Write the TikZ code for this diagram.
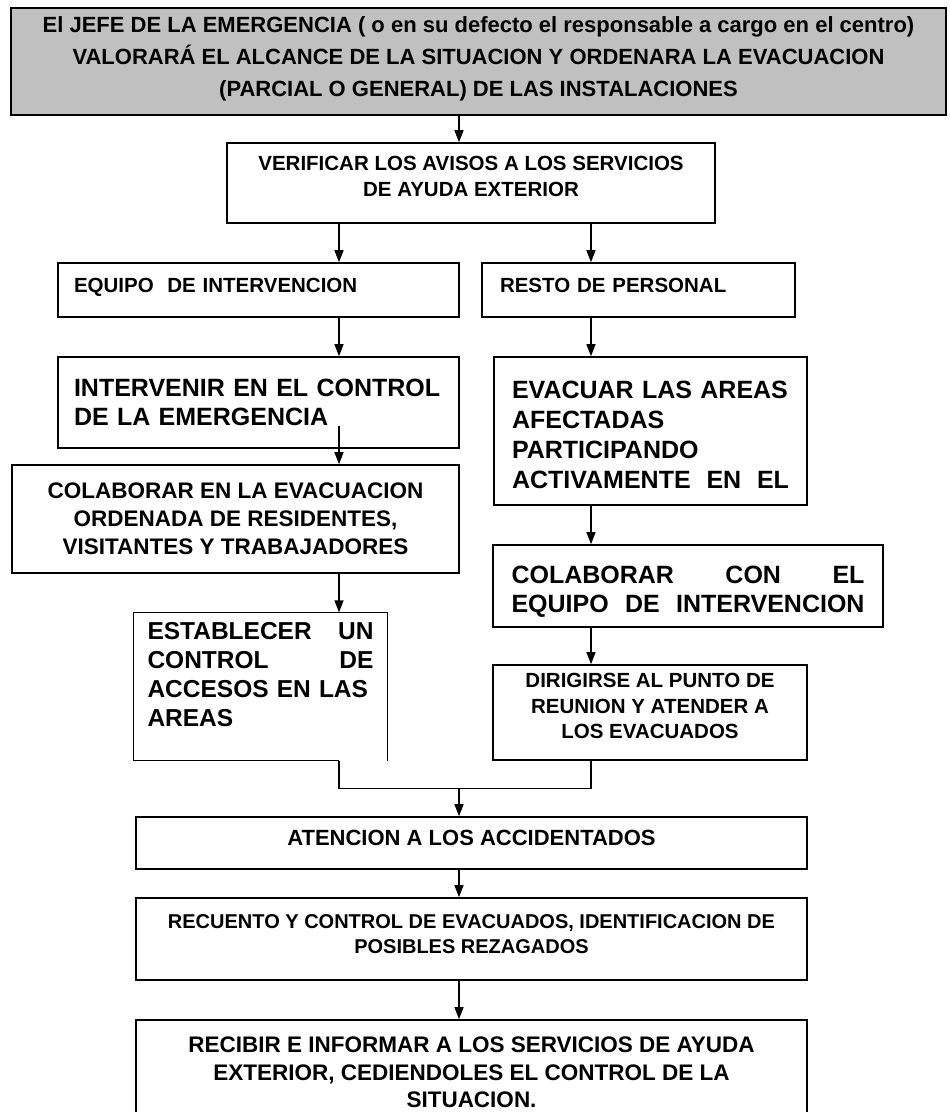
\documentclass[tikz,border=0pt]{standalone}
\usepackage{fontspec}
\setmainfont{Liberation Sans}
\usetikzlibrary{arrows.meta,calc}
\definecolor{jefegray}{RGB}{192,192,192}
\newcommand{\lowstrut}[1]{\rule[-#1]{0pt}{#1}}
\newcommand{\highstrut}[1]{\rule{0pt}{#1}}
\newcommand{\boxfont}[2]{\bfseries\fontsize{#1}{#2}\selectfont}

\begin{document}
\begin{tikzpicture}[x=1pt, y=-1pt, >={Triangle[length=12pt,width=9pt]}, line width=1.3pt,
        box/.style={draw, line width=1.6pt, inner sep=0pt}]
    \useasboundingbox (0,0) rectangle (950,1112);
    \coordinate (lcol) at (339,0);
    \coordinate (mcol) at (459,0);
    \coordinate (rcol) at (591,0);
    \node[box, fill=jefegray, minimum width=935pt, minimum height=107pt, align=center, font=\boxfont{22}{32}] (jefe) at (478.5,61.5)
        {El JEFE DE LA EMERGENCIA ( o en su defecto el responsable a cargo en el centro)\\
         VALORARÁ EL ALCANCE DE LA SITUACION Y ORDENARA LA EVACUACION\\
         (PARCIAL O GENERAL) DE LAS INSTALACIONES\lowstrut{9pt}};
    \node[box, minimum width=488pt, minimum height=80pt, align=center, font=\boxfont{20.5}{26}] (verify) at (471,183)
        {VERIFICAR LOS AVISOS A LOS SERVICIOS\\DE AYUDA EXTERIOR\lowstrut{14pt}};
    \node[box, minimum width=401pt, minimum height=54pt, text width=369pt, align=left, font=\boxfont{20.5}{26}] (equipo) at (258.5,290)
        {EQUIPO\ \ DE INTERVENCION\lowstrut{10pt}};
    \node[box, minimum width=313pt, minimum height=54pt, text width=277pt, align=left, font=\boxfont{20.5}{26}] (resto) at (638.5,290)
        {RESTO DE PERSONAL\lowstrut{10pt}};
    \node[box, minimum width=401pt, minimum height=91pt, text width=369pt, align=left, font=\boxfont{25}{29}] (intervenir) at (258.5,402.5)
        {INTERVENIR EN EL CONTROL\\DE LA EMERGENCIA};
    \node[box, minimum width=313pt, minimum height=148pt, text width=277pt, align=left, font=\boxfont{25}{30}] (evacuar) at (650.5,431)
        {\highstrut{25pt}EVACUAR LAS AREAS\\AFECTADAS\\PARTICIPANDO\\ACTIVAMENTE\hfill EN\hfill EL};
    \node[box, minimum width=447pt, minimum height=108pt, align=center, font=\boxfont{22.5}{28}] (colabevac) at (235.5,519)
        {COLABORAR EN LA EVACUACION\\ORDENADA DE RESIDENTES,\\VISITANTES Y TRABAJADORES};
    \node[box, minimum width=390pt, minimum height=82pt, text width=353pt, align=left, font=\boxfont{25}{29}] (colabcon) at (688,586)
        {\highstrut{29pt}COLABORAR\hfill CON\hfill EL\\EQUIPO\hfill DE\hfill INTERVENCION};
    \node[minimum width=253pt, minimum height=147pt, inner sep=0pt, text width=226pt, align=left, font=\boxfont{24.5}{29}] (establecer) at (260.5,686.5)
        {\highstrut{26pt}ESTABLECER\hfill UN\\CONTROL\hfill DE\\\mbox{ACCESOS EN LAS}\\AREAS\lowstrut{34pt}};
    \node[box, minimum width=314pt, minimum height=95pt, align=center, font=\boxfont{20.5}{25.5}] (dirigirse) at (650,712.5)
        {DIRIGIRSE AL PUNTO DE\\REUNION Y ATENDER A\\LOS EVACUADOS\lowstrut{13pt}};
    \node[box, minimum width=671pt, minimum height=52pt, align=center, font=\boxfont{22}{28}] (atencion) at (471.5,843)
        {ATENCION A LOS ACCIDENTADOS\lowstrut{10pt}};
    \node[box, minimum width=671pt, minimum height=82pt, align=center, font=\boxfont{20}{25}] (recuento) at (471.5,939)
        {RECUENTO Y CONTROL DE EVACUADOS, IDENTIFICACION DE\\POSIBLES REZAGADOS\lowstrut{9pt}};
    \node[box, minimum width=671pt, minimum height=105pt, align=center, font=\boxfont{22.5}{27.5}] (recibir) at (471.5,1072.5)
        {RECIBIR E INFORMAR A LOS SERVICIOS DE AYUDA\\EXTERIOR, CEDIENDOLES EL CONTROL DE LA\\SITUACION.};
    \draw[line width=1.6pt] (establecer.south -| lcol) -- (establecer.south west) -- (establecer.north west)
        -- (establecer.north east) -- (establecer.south east);
    \coordinate (join) at ($(establecer.south -| lcol)+(0,28)$);
    \draw[->] (jefe.south -| mcol) -- (verify.north -| mcol);
    \draw[->] (verify.south -| lcol) -- (equipo.north -| lcol);
    \draw[->] (verify.south -| rcol) -- (resto.north -| rcol);
    \draw[->] (equipo.south -| lcol) -- (intervenir.north -| lcol);
    \draw[->] (resto.south -| rcol) -- (evacuar.north -| rcol);
    \draw[->] ($(intervenir.south -| lcol)+(0,-23)$) -- (colabevac.north -| lcol);
    \draw[->] (colabevac.south -| lcol) -- (establecer.north -| lcol);
    \draw[->] (evacuar.south -| rcol) -- (colabcon.north -| rcol);
    \draw[->] (colabcon.south -| rcol) -- (dirigirse.north -| rcol);
    \draw (establecer.south -| lcol) -- (join) -| (dirigirse.south -| rcol);
    \draw[->] (join -| mcol) -- (atencion.north -| mcol);
    \draw[->] (atencion.south -| mcol) -- (recuento.north -| mcol);
    \draw[->] (recuento.south -| mcol) -- (recibir.north -| mcol);
\end{tikzpicture}
\end{document}
